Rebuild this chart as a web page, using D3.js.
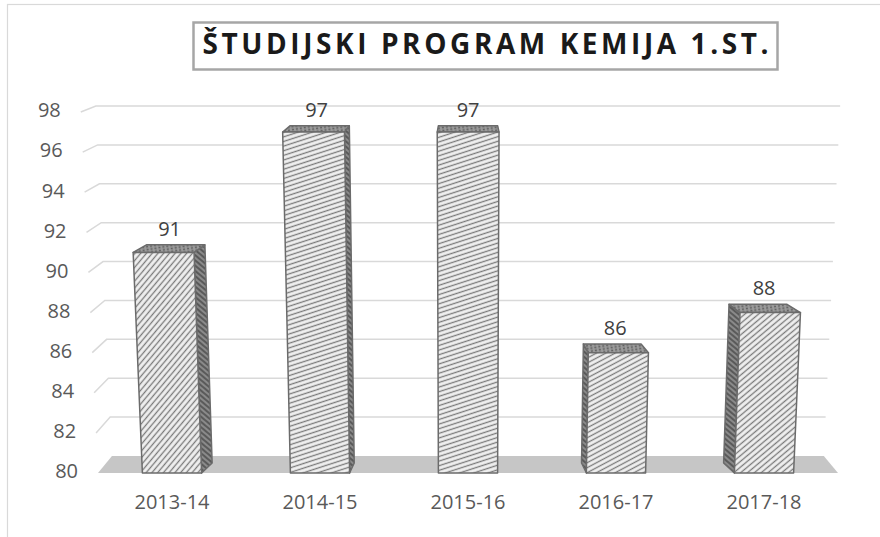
<!DOCTYPE html>
<html>
<head>
<meta charset="utf-8">
<script src="https://cdn.jsdelivr.net/npm/d3@7"></script>
<style>
  html, body { margin: 0; padding: 0; background: #fff; }
  svg { display: block; }
</style>
</head>
<body>
<svg id="chart" width="880" height="537"></svg>
<script>
// ---- data ----
const categories = ["2013-14", "2014-15", "2015-16", "2016-17", "2017-18"];
const values = [91, 97, 97, 86, 88];
const yTicks = [80, 82, 84, 86, 88, 90, 92, 94, 96, 98];
const titleText = "ŠTUDIJSKI PROGRAM KEMIJA 1.ST.";

// ---- setup ----
const svg = d3.select("#chart");
const FONT = "'Open Sans', 'DejaVu Sans', sans-serif";
const TXT = "#595959";

// scales
const x = d3.scaleBand().domain(categories).range([98, 838]).paddingInner(0.6).paddingOuter(0.3);
const yFront = d3.scaleLinear().domain([80, 98]).range([473, 112]);
const yBack = d3.scaleLinear().domain([80, 98]).range([456, 106]);
const yBarBack = d3.scaleLinear().domain([80, 98]).range([463, 106]);

// simple perspective helpers
const VX = 465, K = 1.3e-4, D = 0.038, DB = 0.04;
function frontPt(X, v) {
  const y = yFront(v);
  return [X + (X - VX) * K * (yFront(80) - y), y];
}
function backPlanePt(X, v) {
  const Xb = X + (VX - X) * D;
  const y = yBack(v);
  return [Xb + (Xb - VX) * K * (yBack(80) - y), y];
}
function barBackPt(X, v) {
  const p = frontPt(X, v);
  return [p[0] + (VX - p[0]) * DB, yBarBack(v)];
}
const poly = pts => "M" + pts.map(p => p[0].toFixed(2) + "," + p[1].toFixed(2)).join("L") + "Z";

// outer frame
svg.append("rect").attr("x", 7.5).attr("y", 4.5).attr("width", 1000).attr("height", 1000)
  .attr("fill", "none").attr("stroke", "#d9d9d9").attr("stroke-width", 1.2);

// patterns
const defs = svg.append("defs");
const frontAngles = [50, 18, 18, 28, 40];
frontAngles.forEach((a, i) => {
  const p = defs.append("pattern").attr("id", "front" + i).attr("patternUnits", "userSpaceOnUse")
    .attr("width", 10).attr("height", 4.4).attr("patternTransform", `rotate(${-a})`);
  p.append("rect").attr("width", 10).attr("height", 4.4).attr("fill", "#efefef");
  p.append("line").attr("x1", 0).attr("x2", 10).attr("y1", 2.2).attr("y2", 2.2)
    .attr("stroke", "#7a7a7a").attr("stroke-width", 1.3);
});
{
  const p = defs.append("pattern").attr("id", "side").attr("patternUnits", "userSpaceOnUse")
    .attr("width", 10).attr("height", 4).attr("patternTransform", "rotate(40)");
  p.append("rect").attr("width", 10).attr("height", 4).attr("fill", "#8a8a8a");
  p.append("line").attr("x1", 0).attr("x2", 10).attr("y1", 2).attr("y2", 2)
    .attr("stroke", "#4a4a4a").attr("stroke-width", 1.5);
  const t = defs.append("pattern").attr("id", "top").attr("patternUnits", "userSpaceOnUse")
    .attr("width", 4).attr("height", 3).attr("patternTransform", "rotate(-10)");
  t.append("rect").attr("width", 4).attr("height", 3).attr("fill", "#9a9a9a");
  t.append("circle").attr("cx", 2).attr("cy", 1.5).attr("r", 0.9).attr("fill", "#555");
}

// gridlines
const grid = svg.append("g");
yTicks.filter(v => v > 80).forEach(v => {
  const a = frontPt(98, v), b = backPlanePt(98, v), c = backPlanePt(838, v);
  grid.append("path").attr("d", `M${a[0]},${a[1]}L${b[0]},${b[1]}L${c[0]},${c[1]}`)
    .attr("fill", "none").attr("stroke", "#d9d9d9").attr("stroke-width", 1.5);
});

// floor
svg.append("path")
  .attr("d", poly([frontPt(98, 80), frontPt(838, 80), backPlanePt(838, 80), backPlanePt(98, 80)]))
  .attr("fill", "#c6c6c6");

// y labels
svg.append("g").selectAll("text").data(yTicks).join("text")
  .attr("x", v => frontPt(98, v)[0] - 20)
  .attr("y", v => yFront(v))
  .attr("text-anchor", "end").attr("dominant-baseline", "middle")
  .attr("font-family", FONT).attr("font-size", 20).attr("fill", TXT)
  .text(v => v);

// bars
const bars = svg.append("g");
categories.forEach((cat, i) => {
  const v = values[i];
  const X0 = x(cat), X1 = X0 + x.bandwidth();
  const FLb = frontPt(X0, 80), FRb = frontPt(X1, 80), FLt = frontPt(X0, v), FRt = frontPt(X1, v);
  const BLb = barBackPt(X0, 80), BRb = barBackPt(X1, 80), BLt = barBackPt(X0, v), BRt = barBackPt(X1, v);
  const g = bars.append("g").attr("stroke", "#6b6b6b").attr("stroke-width", 1.5).attr("stroke-linejoin", "round");
  const center = (X0 + X1) / 2;
  if (center < VX - 10) {
    g.append("path").attr("d", poly([FRb, FRt, BRt, BRb])).attr("fill", "url(#side)");
  } else if (center > VX + 10) {
    g.append("path").attr("d", poly([FLb, FLt, BLt, BLb])).attr("fill", "url(#side)");
  }
  g.append("path").attr("d", poly([FLt, FRt, BRt, BLt])).attr("fill", "url(#top)");
  g.append("path").attr("d", poly([FLb, FLt, FRt, FRb])).attr("fill", `url(#front${i})`);
  // data label
  const cx = (FLt[0] + FRt[0] + BLt[0] + BRt[0]) / 4;
  svg.append("text").attr("x", cx).attr("y", Math.min(BLt[1], BRt[1]) - 9)
    .attr("text-anchor", "middle").attr("font-family", FONT).attr("font-size", 20).attr("fill", "#404040")
    .text(v);
});

// category labels
svg.append("g").selectAll("text").data(categories).join("text")
  .attr("x", c => x(c) + x.bandwidth() / 2)
  .attr("y", 504)
  .attr("text-anchor", "middle").attr("dominant-baseline", "middle")
  .attr("font-family", FONT).attr("font-size", 20).attr("fill", TXT)
  .text(c => c);

// title
svg.append("rect").attr("x", 193.5).attr("y", 22.5).attr("width", 584).attr("height", 47)
  .attr("fill", "#fff").attr("stroke", "#a6a6a6").attr("stroke-width", 2.5);
const title = svg.append("text").attr("x", 485.5).attr("y", 47)
  .attr("text-anchor", "middle").attr("dominant-baseline", "middle")
  .attr("font-family", FONT).attr("font-weight", "bold").attr("font-size", 28).attr("fill", "#1a1a1a")
  .text(titleText);
const tw = title.node().getComputedTextLength();
const ls = Math.max(0, (566 - tw) / (titleText.length - 1));
title.attr("letter-spacing", ls).attr("x", 485.5 + ls / 2);
</script>
</body>
</html>
